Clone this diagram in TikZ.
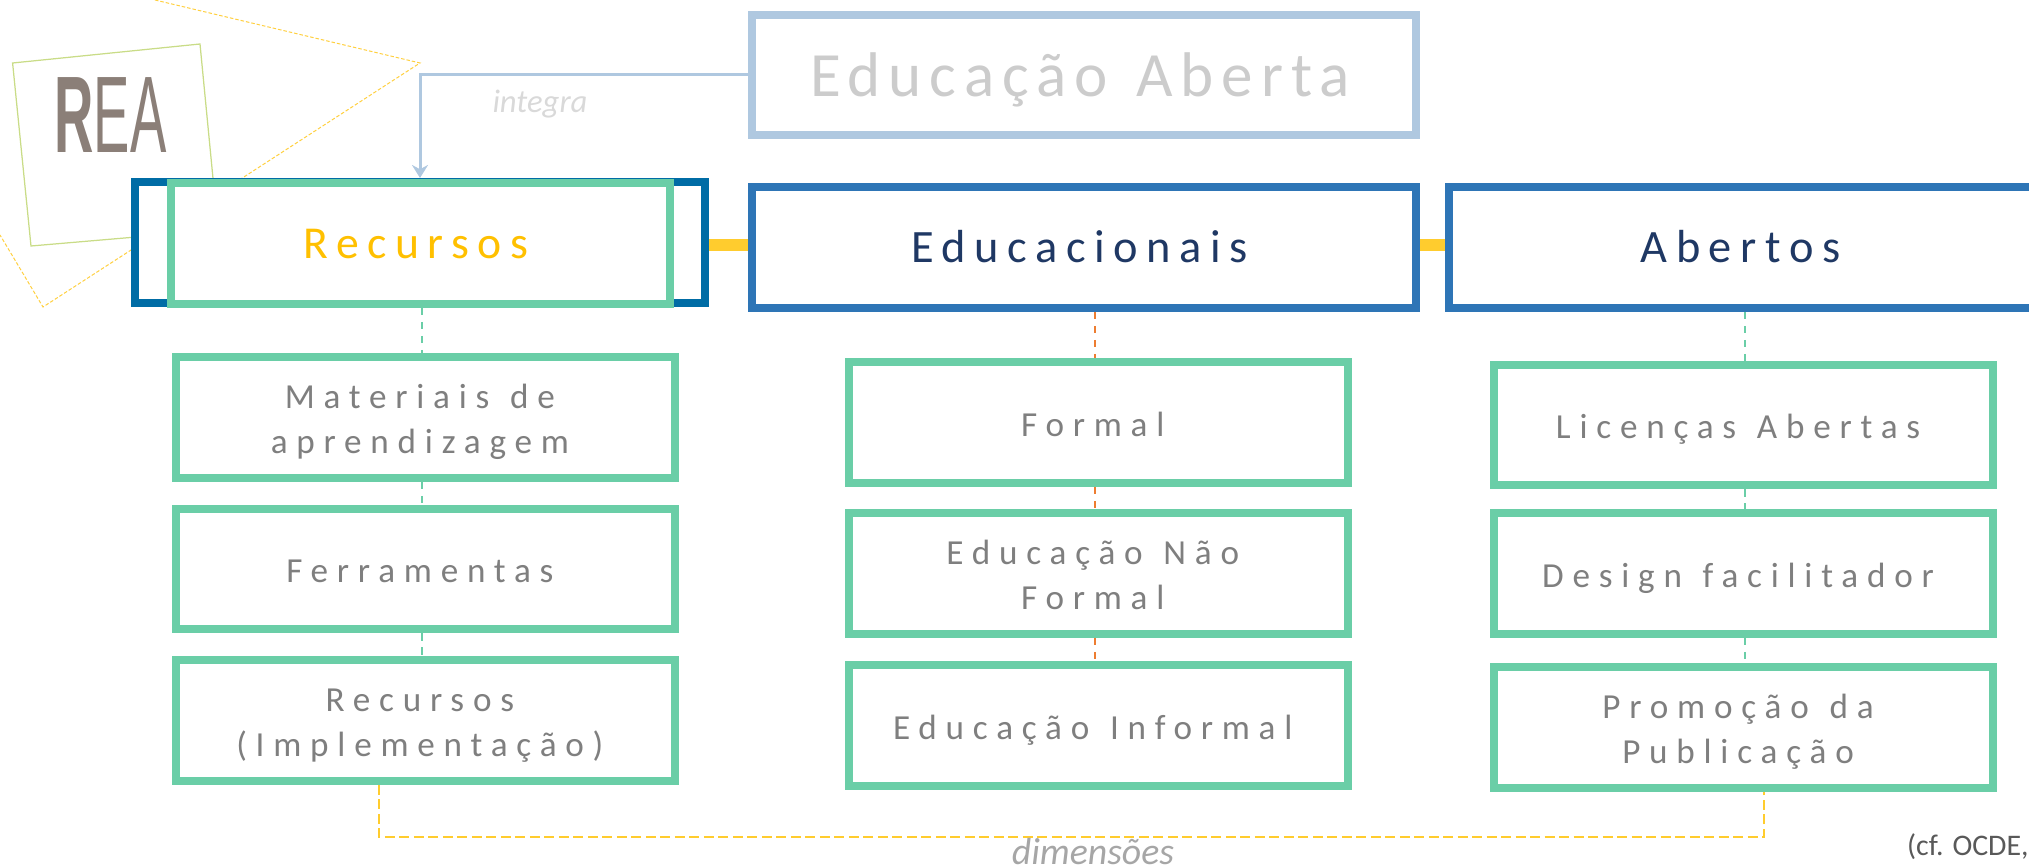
\documentclass[tikz,border=0pt]{standalone}
\usepackage{fontspec}
\usetikzlibrary{arrows.meta}
\setmainfont{Carlito}
\newfontfamily\spaced[LetterSpace=25]{Carlito}
\newfontfamily\spacedtop[LetterSpace=18.5]{Carlito}
\newfontfamily\spacedtitle[LetterSpace=12.5]{Carlito}
\newfontfamily\reafont{Liberation Sans}
\definecolor{verde}{HTML}{6ACEA7}
\definecolor{azul}{HTML}{2E75B6}
\definecolor{azulesc}{HTML}{006CA5}
\definecolor{azulcl}{HTML}{AFC8E0}
\definecolor{amarelo}{HTML}{FFCC2E}
\definecolor{ouro}{HTML}{FFC000}
\definecolor{lima}{HTML}{C9DC87}
\definecolor{laranja}{HTML}{ED7D31}
\definecolor{marinho}{HTML}{1F3864}
\definecolor{cinza}{HTML}{7F7F7F}
\definecolor{castanho}{HTML}{8B7F78}
\tikzset{
  subbox/.style={draw=verde, line width=0.16cm, fill=white, minimum width=9.98cm, minimum height=2.42cm,
    text width=9cm, align=center, text=cinza, font=\spaced\fontsize{20pt}{25.5pt}\selectfont,
    execute at begin node={\spaceskip=0.59em\advance\rightskip by 0.31em\rule{0pt}{1.02em}},
    execute at end node={\rule[-0.25em]{0pt}{0.25em}}},
  topbox/.style={draw=azul, line width=0.16cm, fill=white, minimum width=13.28cm, minimum height=2.42cm,
    text width=9cm, align=center, text=marinho, font=\spacedtop\fontsize{26.4pt}{30pt}\selectfont,
    execute at begin node={\advance\rightskip by 0.2em\rule{0pt}{0.894em}},
    execute at end node={\rule[-0.25em]{0pt}{0.25em}}},
  ligverde/.style={draw=verde, line width=0.05cm, dash pattern=on 0.15cm off 0.13cm},
  liglaranja/.style={draw=laranja, line width=0.05cm, dash pattern=on 0.15cm off 0.13cm},
  ligamarela/.style={draw=amarelo, line width=0.23cm},
  dimensao/.style={draw=amarelo, line width=0.05cm, dash pattern=on 0.2cm off 0.09cm}
}
\begin{document}
\begin{tikzpicture}[x=0.02cm, y=-0.02cm]
\useasboundingbox (0,0) rectangle (2029,868);

\draw [draw=ouro!75, line width=0.02cm, dash pattern=on 0.07cm off 0.04cm] (155,0) -- (420,63) -- (43,307) -- (0,235);
\draw [draw=lima, line width=0.025cm] (12.6,63) -- (200,44) -- (218,230) -- (31,246) -- cycle;

\node [text=castanho, inner sep=0, xscale=0.5, font=\reafont\fontsize{62pt}{62pt}\selectfont] (rea) at (110.5,115)
  {\textbf{R}EA};

\node [topbox, draw=azulcl, text=black!20, text width=12cm, font=\spacedtitle\fontsize{35.9pt}{40pt}\selectfont,
  execute at begin node={\spaceskip=0.46em\advance\rightskip by -0.07em\rule{0pt}{0.938em}}] (aberta) at (1084,75) {Educação Aberta};
\node [topbox, draw=azulesc, minimum width=11.4cm] (recursosbase) at (420,242.5) {};
\node [topbox, draw=verde, minimum width=9.98cm, text=ouro, font=\spacedtop\fontsize{26pt}{30pt}\selectfont] (recursos) at (420.5,243.5) {Recursos};
\node [topbox] (educacionais) at (1084,247.5) {Educacionais};
\node [topbox, minimum width=11.84cm] (abertos) at (1745,247.5) {Abertos};

\node [subbox] (materiais) at (425.3,417.5) {Materiais de\\aprendizagem};
\node [subbox] (ferramentas) at (425.3,569) {Ferramentas};
\node [subbox] (recimpl) at (425.3,720.5) {Recursos\\(Implementação)};

\node [subbox] (formal) at (1098.2,422.5) {Formal};
\node [subbox] (naoformal) at (1098.2,573.5) {Educação Não\\Formal};
\node [subbox] (informal) at (1098.2,725.5) {Educação Informal};

\node [subbox] (licencas) at (1743.5,425) {Licenças Abertas};
\node [subbox] (design) at (1743.5,573.5) {Design facilitador};
\node [subbox] (promocao) at (1743.5,727.5) {Promoção da\\Publicação};

\draw [draw=azulcl, line width=0.06cm, -{Stealth[length=0.26cm,width=0.32cm]}] (aberta.west) -| (recursosbase.north);
\node [text=black!15, font=\itshape\fontsize{18.6pt}{20pt}\selectfont] (integra) at (540,104) {integra};

\coordinate (ponte) at (0,245);
\draw [ligamarela] (recursosbase.east |- ponte) -- (educacionais.west |- ponte);
\draw [ligamarela] (educacionais.east |- ponte) -- (abertos.west |- ponte);

\coordinate (colrec) at (422,0);
\coordinate (coledu) at (1095,0);
\coordinate (colabe) at (1745,0);
\draw [ligverde] (recursos.south -| colrec) -- (materiais.north -| colrec);
\draw [ligverde] (materiais.south -| colrec) -- (ferramentas.north -| colrec);
\draw [ligverde] (ferramentas.south -| colrec) -- (recimpl.north -| colrec);
\draw [liglaranja] (educacionais.south -| coledu) -- (formal.north -| coledu);
\draw [liglaranja] (formal.south -| coledu) -- (naoformal.north -| coledu);
\draw [liglaranja] (naoformal.south -| coledu) -- (informal.north -| coledu);
\draw [ligverde] (abertos.south -| colabe) -- (licencas.north -| colabe);
\draw [ligverde] (licencas.south -| colabe) -- (design.north -| colabe);
\draw [ligverde] (design.south -| colabe) -- (promocao.north -| colabe);

\coordinate (dimesq) at (379,837);
\coordinate (dimdir) at (1764,837);
\draw [dimensao] (recimpl.south -| dimesq) -- (dimesq) -- (dimdir) -- (promocao.south -| dimdir);
\node [text=black!35, anchor=base, inner sep=0, font=\itshape\fontsize{21.5pt}{24pt}\selectfont] (dimensoes) at (1093,864) {dimensões};
\node [text=black!65, anchor=east, inner sep=0, font=\fontsize{17pt}{20pt}\selectfont] (fonte) at (2029,847) {(cf. OCDE,};
\end{tikzpicture}
\end{document}
